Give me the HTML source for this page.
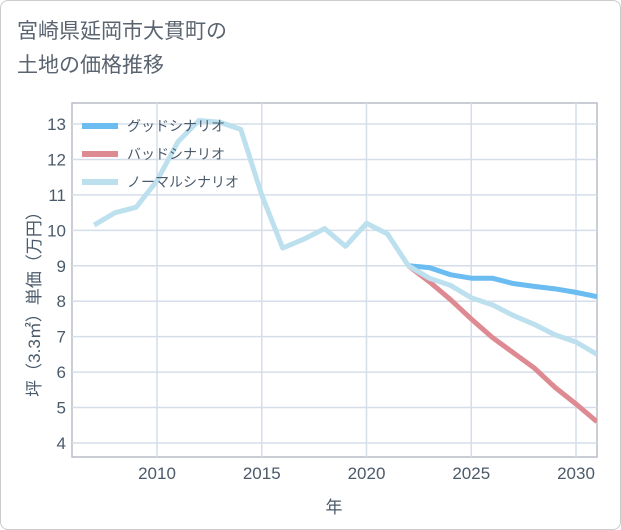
<!DOCTYPE html>
<html><head><meta charset="utf-8"><style>
body{margin:0;background:#fff;}
.wrap{position:relative;width:619px;height:528px;border:1px solid #ccc;border-radius:8px;background:#fff;overflow:hidden;font-family:"Liberation Sans","Noto Sans CJK JP",sans-serif;}
.title{position:absolute;left:16px;top:14px;font-size:21px;line-height:34px;color:#5a6470;}
</style></head><body>
<div class="wrap">
<div class="title">宮崎県延岡市大貫町の<br>土地の価格推移</div>
<svg id="chart" width="621" height="530" style="position:absolute;left:-1px;top:-1px"></svg>
</div>
<script>
const years=[2007,2008,2009,2010,2011,2012,2013,2014,2015,2016,2017,2018,2019,2020,2021,2022,2023,2024,2025,2026,2027,2028,2029,2030,2031];
const normal=[10.15,10.5,10.65,11.4,12.5,13.1,13.05,12.85,11.0,9.5,9.75,10.05,9.55,10.2,9.9,9.0,8.65,8.45,8.1,7.9,7.6,7.35,7.05,6.85,6.5];
const futureYears=[2022,2023,2024,2025,2026,2027,2028,2029,2030,2031];
const good=[9.0,8.95,8.75,8.65,8.65,8.5,8.42,8.35,8.25,8.13];
const bad=[9.0,8.55,8.05,7.5,6.98,6.55,6.12,5.57,5.1,4.6];
const yTicks=[4,5,6,7,8,9,10,11,12,13];
const xTicks=[2010,2015,2020,2025,2030];
const L=72,T=103,R=597,B=457;
const X=y=>157+(y-2010)*20.95;
const Y=v=>443-(v-4)*35.44;
const svg=document.getElementById('chart');
const NS='http://www.w3.org/2000/svg';
const TXT='#4a5a6a';
function mk(t,a,txt){const e=document.createElementNS(NS,t);for(const k in a)e.setAttribute(k,a[k]);if(txt!==undefined)e.textContent=txt;svg.appendChild(e);return e;}
let e=mk('rect',{x:L,y:T,width:R-L,height:B-T,fill:'#fff',stroke:'#b8bec6','stroke-width':1.5});


yTicks.forEach(v=>{
 let g=mk('line',{x1:L,x2:R,y1:Y(v),y2:Y(v),stroke:'#d5dee8','stroke-width':1.5});
 
 
 let t=mk('text',{x:L-6,y:Y(v)+6,'text-anchor':'end','font-size':17,fill:TXT},v);
 
 
});
xTicks.forEach(v=>{
 let g=mk('line',{x1:X(v),x2:X(v),y1:T,y2:B,stroke:'#d5dee8','stroke-width':1.5});
 
 
 let t=mk('text',{x:X(v),y:B+22,'text-anchor':'middle','font-size':17,fill:TXT},v);
 
 
});
let xt=mk('text',{x:334,y:513,'text-anchor':'middle','font-size':17,fill:TXT},'年');


let yt=mk('text',{x:0,y:0,'text-anchor':'middle','font-size':17,fill:TXT,transform:'translate(40,300) rotate(-90)'},'坪（3.3㎡）単価（万円）');


function line(xs,vs,c,n){let p=mk('polyline',{points:xs.map((y,i)=>X(y)+','+Y(vs[i])).join(' '),fill:'none',stroke:c,'stroke-width':5,'stroke-linejoin':'round'});
 
 }
const clip=mk('clipPath',{id:'c'});const cr=document.createElementNS(NS,'rect');cr.setAttribute('x',L);cr.setAttribute('y',T);cr.setAttribute('width',R-L);cr.setAttribute('height',B-T);clip.appendChild(cr);
const gg=mk('g',{'clip-path':'url(#c)'});
const legend=[['グッドシナリオ','#6bbcf0'],['バッドシナリオ','#de8a92'],['ノーマルシナリオ','#bde0ee']];
legend.forEach((l,i)=>{let y=126+i*28;
 let r=mk('line',{x1:82,x2:118,y1:y,y2:y,stroke:l[1],'stroke-width':6});
 
 
 let t=mk('text',{x:127,y:y+5,'font-size':14,fill:TXT},l[0]);
 
 
});
line(futureYears,bad,'#de8a92','bad-scenario-line');
line(futureYears,good,'#6bbcf0','good-scenario-line');
line(years,normal,'#bde0ee','normal-scenario-line');
svg.querySelectorAll('polyline').forEach(p=>gg.appendChild(p));
</script>
</body></html>
